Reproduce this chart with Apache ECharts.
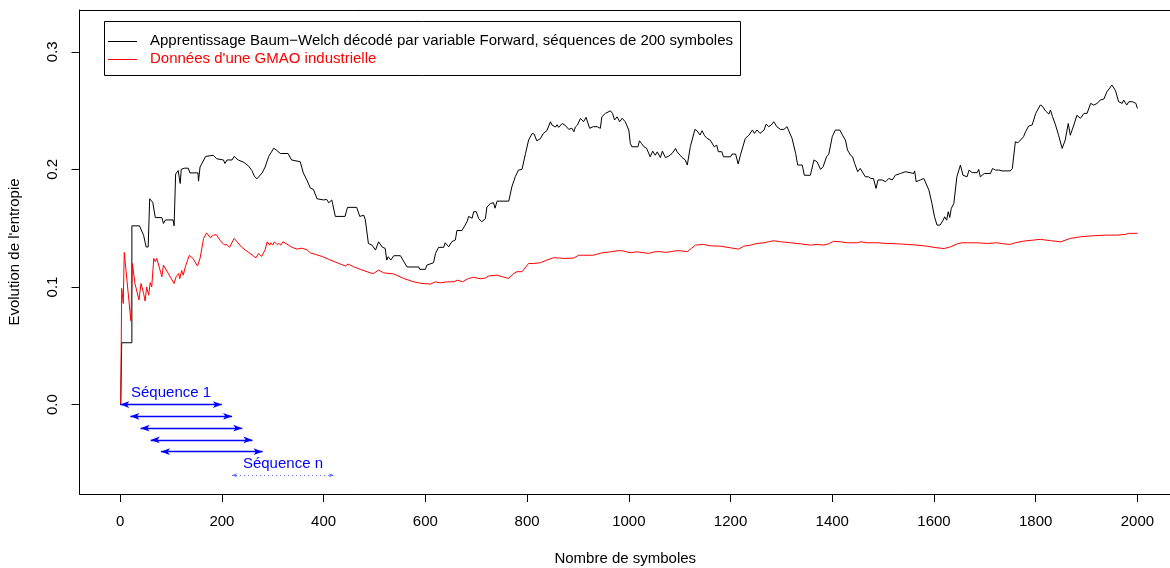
<!DOCTYPE html>
<html>
<head>
<meta charset="utf-8">
<title>Evolution de l'entropie</title>
<script src="https://cdn.jsdelivr.net/npm/echarts@6/dist/echarts.min.js"></script>
<style>
  html, body { margin: 0; padding: 0; background: #fff; }
  #chart { width: 1170px; height: 568px; }
</style>
</head>
<body>
<div id="chart"></div>
<script>
// Baum-Welch learning decoded by the Forward variable (sequences of 200 symbols)
const bwX = [1,3,3,23,23,38,46,51,55,58,64,69,82,85,89,104,106,109,114,117,118,120,126,134,137,153,154,157,168,170,183,190,203,206,210,220,224,232,243,252,259,264,269,279,285,292,302,308,315,330,337,354,360,367,374,380,387,400,406,410,416,423,442,447,465,471,479,482,488,495,502,508,515,521,524,527,532,538,551,554,564,587,589,600,603,616,620,626,636,639,646,652,659,662,672,675,682,685,692,695,700,705,711,718,721,728,734,737,741,764,770,777,783,790,797,803,810,814,819,826,832,839,846,849,856,859,862,865,869,875,878,882,888,892,895,899,905,911,916,923,930,938,944,947,954,964,968,972,977,982,987,993,1000,1003,1006,1018,1021,1025,1030,1035,1042,1047,1052,1056,1062,1066,1072,1079,1085,1092,1095,1098,1105,1111,1115,1121,1130,1134,1140,1144,1149,1154,1160,1168,1173,1176,1183,1186,1200,1203,1210,1215,1220,1229,1236,1243,1247,1252,1258,1266,1270,1275,1280,1285,1291,1298,1305,1311,1314,1321,1328,1332,1341,1345,1357,1364,1370,1377,1382,1389,1393,1400,1406,1415,1420,1426,1430,1436,1440,1444,1450,1455,1458,1465,1471,1476,1481,1486,1490,1498,1505,1511,1518,1524,1534,1544,1553,1560,1562,1565,1573,1580,1583,1590,1596,1601,1606,1612,1618,1621,1625,1628,1631,1634,1639,1645,1652,1657,1665,1669,1675,1685,1688,1691,1699,1711,1715,1721,1728,1734,1737,1750,1754,1760,1765,1770,1776,1780,1786,1793,1800,1809,1813,1819,1826,1829,1833,1839,1845,1852,1858,1864,1868,1875,1881,1888,1895,1901,1908,1914,1921,1927,1934,1940,1950,1957,1963,1970,1973,1979,1983,1990,1997,2000];
const bwY = [0,0,0.0526,0.0526,0.152,0.152,0.144,0.134,0.134,0.175,0.172,0.159,0.159,0.154,0.157,0.157,0.152,0.196,0.199,0.199,0.188,0.2,0.201,0.201,0.197,0.197,0.19,0.202,0.211,0.212,0.212,0.209,0.208,0.205,0.208,0.208,0.211,0.208,0.206,0.203,0.199,0.194,0.192,0.197,0.202,0.211,0.218,0.216,0.2135,0.2135,0.208,0.2065,0.197,0.191,0.184,0.183,0.175,0.174,0.1745,0.1716,0.174,0.16,0.16,0.1677,0.1677,0.16,0.161,0.157,0.137,0.1356,0.1314,0.1384,0.134,0.1328,0.1229,0.1257,0.1229,0.1266,0.1266,0.1243,0.117,0.117,0.115,0.115,0.1186,0.1206,0.1286,0.1337,0.1337,0.1376,0.1342,0.1385,0.14,0.148,0.148,0.147,0.1555,0.16,0.1585,0.164,0.164,0.158,0.1555,0.158,0.168,0.171,0.1716,0.167,0.173,0.173,0.185,0.194,0.1994,0.2,0.2136,0.225,0.2306,0.23,0.2243,0.226,0.2306,0.233,0.2405,0.2377,0.236,0.238,0.2357,0.234,0.239,0.2375,0.239,0.234,0.235,0.232,0.236,0.2377,0.2434,0.2405,0.2442,0.2349,0.2363,0.2363,0.2349,0.2447,0.2476,0.2498,0.2476,0.242,0.2447,0.2405,0.2434,0.2405,0.2334,0.2221,0.2192,0.2192,0.2243,0.222,0.2192,0.2179,0.2107,0.2155,0.212,0.2149,0.21,0.2155,0.21,0.2114,0.2135,0.2178,0.2149,0.2135,0.21,0.208,0.2037,0.2194,0.234,0.2329,0.2292,0.2329,0.2286,0.2263,0.2249,0.2192,0.2206,0.215,0.215,0.2107,0.2107,0.213,0.213,0.2046,0.213,0.2263,0.229,0.2335,0.2306,0.2335,0.2306,0.2335,0.2385,0.2363,0.2377,0.2405,0.2363,0.234,0.234,0.2363,0.2368,0.2263,0.2136,0.2037,0.2037,0.195,0.195,0.208,0.2065,0.2,0.2022,0.211,0.2126,0.2278,0.2334,0.2334,0.2292,0.2249,0.2164,0.212,0.2107,0.205,0.198,0.2008,0.1994,0.1937,0.1937,0.1923,0.1923,0.1838,0.191,0.191,0.1895,0.1923,0.191,0.195,0.1965,0.198,0.1972,0.1965,0.1987,0.1895,0.191,0.1923,0.191,0.1824,0.171,0.1597,0.1526,0.1526,0.1568,0.1597,0.1568,0.164,0.1592,0.1668,0.171,0.1937,0.2037,0.195,0.1937,0.1994,0.1972,0.1972,0.2,0.1937,0.1965,0.1965,0.2007,0.1994,0.1994,0.1987,0.1987,0.1987,0.2007,0.2235,0.2226,0.2249,0.2277,0.232,0.2368,0.2377,0.2476,0.2547,0.2538,0.2498,0.247,0.2505,0.245,0.2377,0.229,0.2178,0.2249,0.239,0.229,0.2377,0.246,0.2434,0.2476,0.2476,0.2561,0.2547,0.2561,0.259,0.2598,0.266,0.2717,0.2668,0.2575,0.2561,0.259,0.2547,0.2575,0.2575,0.2561,0.2518];

// Industrial CMMS (GMAO) data
const gmaoX = [1,3,6,8,21,24,29,37,41,46,49,52,56,59,62,66,69,72,82,85,106,110,115,117,121,124,128,131,136,143,152,157,164,170,177,183,189,197,204,210,215,224,239,267,272,278,285,289,294,296,300,303,308,312,316,320,328,338,348,357,367,374,384,397,410,413,433,443,448,459,472,492,498,508,518,538,557,577,593,610,620,629,643,656,663,673,685,695,708,718,724,741,751,764,774,780,790,803,813,826,839,852,864,872,892,901,911,930,947,964,977,987,1003,1016,1039,1052,1062,1072,1082,1092,1101,1115,1123,1131,1147,1160,1180,1200,1216,1226,1239,1252,1266,1275,1285,1298,1318,1337,1357,1370,1383,1393,1403,1416,1430,1449,1456,1469,1488,1508,1528,1547,1567,1586,1606,1620,1633,1646,1655,1672,1685,1705,1724,1737,1750,1760,1776,1796,1809,1829,1849,1868,1888,1914,1940,1960,1976,1983,2000];
const gmaoY = [0,0.0988,0.086,0.1294,0.0713,0.12,0.103,0.0889,0.103,0.0946,0.088,0.1,0.093,0.1037,0.1,0.1243,0.1215,0.1243,0.1087,0.1186,0.103,0.1087,0.1115,0.107,0.114,0.11,0.1172,0.1158,0.127,0.1243,0.1178,0.1243,0.1413,0.146,0.142,0.144,0.1445,0.1394,0.136,0.136,0.1337,0.1413,0.1337,0.1248,0.1285,0.126,0.1317,0.1384,0.1356,0.1376,0.1356,0.1384,0.1362,0.137,0.1356,0.1384,0.1364,0.1337,0.1322,0.133,0.1317,0.129,0.1276,0.126,0.1235,0.1229,0.1195,0.1178,0.1195,0.1172,0.115,0.112,0.1115,0.1144,0.112,0.1111,0.1073,0.1044,0.103,0.1025,0.1044,0.1035,0.1044,0.1044,0.1058,0.1044,0.1073,0.1082,0.107,0.1076,0.1093,0.1101,0.1087,0.1073,0.1115,0.113,0.113,0.12,0.12,0.1206,0.1229,0.1249,0.1246,0.1243,0.1246,0.127,0.127,0.127,0.129,0.1299,0.1308,0.1308,0.1291,0.1299,0.1286,0.13,0.13,0.1294,0.13,0.1308,0.1308,0.13,0.1328,0.1356,0.1362,0.135,0.1347,0.1333,0.1322,0.1347,0.1356,0.137,0.1376,0.1385,0.1393,0.1385,0.1376,0.1367,0.1356,0.1362,0.1356,0.1367,0.1389,0.1384,0.1376,0.1376,0.1384,0.1376,0.1376,0.137,0.1367,0.1362,0.1356,0.1347,0.1333,0.1327,0.1342,0.1367,0.1376,0.1376,0.1376,0.137,0.1376,0.1367,0.1362,0.1376,0.139,0.1399,0.1405,0.1394,0.1384,0.1413,0.1427,0.1436,0.1441,0.1441,0.1447,0.1456,0.1456];

// Axis ticks
const xTicks = [0, 200, 400, 600, 800, 1000, 1200, 1400, 1600, 1800, 2000];
const yTicks = [0, 0.1, 0.2, 0.3];

// Sliding window sketch: each sequence covers 200 symbols, shifted by 20
const seqStart = [0, 20, 40, 60, 80];
const seqLevel = [0, -0.01, -0.02, -0.03, -0.04];
const seqLength = 200;
const lastSeq = { from: 220, to: 420, level: -0.06 };
const seqLabels = [
  { text: 'Séquence 1', x: 100, y: 0.01 },
  { text: 'Séquence n', x: 320, y: -0.05 }
];

const legendTexts = [
  'Apprentissage Baum\u2212Welch décodé par variable Forward, séquences de 200 symboles',
  "Données d'une GMAO industrielle"
];

const FONT = "'Liberation Sans', Arial, Helvetica, sans-serif";
const BLUE = '#0000ff';

const pairs = (xs, ys) => xs.map((x, i) => [x, ys[i]]);

const chart = echarts.init(document.getElementById('chart'), null, { renderer: 'canvas' });

const X_MIN = -80, X_MAX = 2066;

chart.setOption({
  animation: false,
  backgroundColor: '#fff',
  textStyle: { fontFamily: FONT },
  grid: { left: 79.5, top: 10, right: -1, bottom: 74, show: false, outerBoundsMode: 'none', containLabel: false },
  xAxis: [
    {
      type: 'value', min: X_MIN, max: X_MAX, position: 'bottom',
      axisLine: { show: true, onZero: false, lineStyle: { color: '#000', width: 1 } },
      splitLine: { show: false },
      axisTick: { show: true, customValues: xTicks, length: 8, lineStyle: { color: '#000', width: 1 } },
      axisLabel: {
        customValues: xTicks, color: '#000', fontSize: 15, fontFamily: FONT, margin: 20,
        formatter: v => String(v)
      },
      name: 'Nombre de symboles', nameLocation: 'middle', nameGap: 57,
      nameTextStyle: { color: '#000', fontSize: 15, fontFamily: FONT }
    },
    {
      // top edge of the plot frame
      type: 'value', min: X_MIN, max: X_MAX, position: 'top',
      axisLine: { show: true, onZero: false, lineStyle: { color: '#000', width: 1 } },
      axisTick: { show: false }, axisLabel: { show: false }, splitLine: { show: false }
    }
  ],
  yAxis: {
    type: 'value', min: -0.076, max: 0.3355,
    axisLine: { show: true, onZero: false, lineStyle: { color: '#000', width: 1 } },
    splitLine: { show: false },
    axisTick: { show: true, customValues: yTicks, length: 8, lineStyle: { color: '#000', width: 1 } },
    axisLabel: {
      customValues: yTicks, color: '#000', fontSize: 15, fontFamily: FONT, margin: 19, rotate: 90,
      formatter: v => v.toFixed(1)
    },
    name: "Evolution de l'entropie", nameLocation: 'middle', nameGap: 57, nameRotate: 90,
    nameTextStyle: { color: '#000', fontSize: 15, fontFamily: FONT }
  },
  series: [
    {
      name: legendTexts[0], type: 'line', data: pairs(bwX, bwY),
      symbol: 'none', lineStyle: { color: '#000', width: 1 }, silent: true, z: 3
    },
    {
      name: legendTexts[1], type: 'line', data: pairs(gmaoX, gmaoY),
      symbol: 'none', lineStyle: { color: '#ff0000', width: 1 }, silent: true, z: 4
    },
    {
      name: 'sequences', type: 'line', data: [], silent: true, z: 5,
      markLine: {
        silent: true, animation: false,
        symbol: ['arrow', 'arrow'], symbolSize: [5, 9],
        lineStyle: { color: BLUE, width: 1.3, type: 'solid' },
        label: { show: false },
        emphasis: { disabled: true },
        data: seqStart.map((s, i) => [
          { coord: [s, seqLevel[i]] },
          { coord: [s + seqLength, seqLevel[i]] }
        ])
      },
      markPoint: {
        silent: true, animation: false,
        symbol: 'circle', symbolSize: 0,
        label: {
          show: true, position: 'inside', color: BLUE, fontSize: 15, fontFamily: FONT,
          formatter: p => p.name
        },
        data: seqLabels.map(l => ({ name: l.text, coord: [l.x, l.y] }))
      }
    },
    {
      name: 'last sequence', type: 'line', data: [], silent: true, z: 5,
      markLine: {
        silent: true, animation: false,
        symbol: ['arrow', 'arrow'], symbolSize: [3, 5],
        lineStyle: { color: 'rgba(40,60,255,0.75)', width: 1, type: [1, 3] },
        label: { show: false },
        emphasis: { disabled: true },
        data: [[{ coord: [lastSeq.from, lastSeq.level] }, { coord: [lastSeq.to, lastSeq.level] }]]
      }
    }
  ],
  graphic: [
    { type: 'rect', z: 100, shape: { x: 104.5, y: 21.5, width: 636, height: 54 },
      style: { fill: '#fff', stroke: '#000', lineWidth: 1 } },
    { type: 'line', z: 101, shape: { x1: 108, y1: 41.5, x2: 137, y2: 41.5 }, style: { stroke: '#000', lineWidth: 1 } },
    { type: 'text', z: 101, x: 150, y: 41, style: { text: legendTexts[0], fill: '#000', font: '15px ' + FONT, verticalAlign: 'middle' } },
    { type: 'line', z: 101, shape: { x1: 108, y1: 59.5, x2: 137, y2: 59.5 }, style: { stroke: '#ff0000', lineWidth: 1 } },
    { type: 'text', z: 101, x: 150, y: 59, style: { text: legendTexts[1], fill: '#ff0000', font: '15px ' + FONT, verticalAlign: 'middle' } }
  ]
});
</script>
</body>
</html>
